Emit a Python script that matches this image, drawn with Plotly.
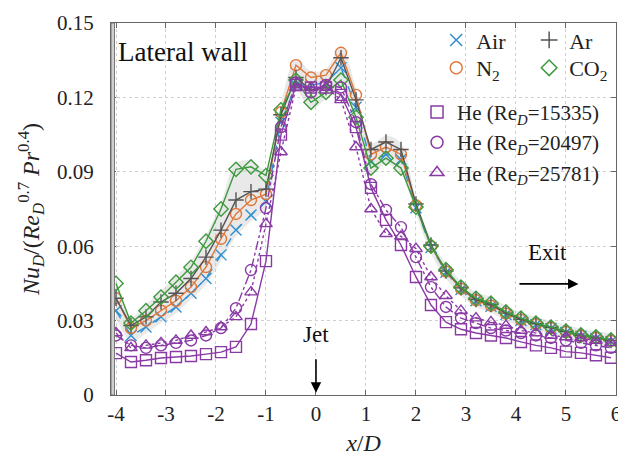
import plotly.graph_objects as go
import numpy as np

x_d = [-4.0, -3.7, -3.4, -3.1, -2.8, -2.5, -2.2, -1.9, -1.6, -1.3, -1.0, -0.7, -0.4, -0.1, 0.2, 0.5, 0.8,
       1.1, 1.4, 1.7, 2.0, 2.3, 2.6, 2.9, 3.2, 3.5, 3.8, 4.1, 4.4, 4.7, 5.0, 5.3, 5.6, 5.9]

air = [0.034, 0.024, 0.0274, 0.0315, 0.0355, 0.041, 0.047, 0.0565, 0.0665, 0.0726, 0.078, 0.110, 0.125, 0.125,
       0.126, 0.132, 0.116, 0.094, 0.097, 0.095, 0.0755, 0.0595, 0.0495, 0.0425, 0.038, 0.0358, 0.0325, 0.030,
       0.0283, 0.0268, 0.0252, 0.0237, 0.0228, 0.0216]
n2 = [0.039, 0.027, 0.030, 0.034, 0.038, 0.0435, 0.0516, 0.063, 0.073, 0.0786, 0.081, 0.114, 0.133, 0.128,
      0.129, 0.138, 0.121, 0.097, 0.100, 0.097, 0.0765, 0.060, 0.0498, 0.0428, 0.0382, 0.036, 0.0328, 0.0303,
      0.0285, 0.027, 0.0254, 0.0238, 0.023, 0.0218]
ar = [0.039, 0.028, 0.0315, 0.0375, 0.041, 0.047, 0.0556, 0.0665, 0.0786, 0.082, 0.083, 0.113, 0.128, 0.123,
      0.124, 0.136, 0.119, 0.099, 0.102, 0.099, 0.077, 0.0605, 0.050, 0.0432, 0.0385, 0.0365, 0.033, 0.0305,
      0.0287, 0.0272, 0.0256, 0.024, 0.0232, 0.022]
co2 = [0.045, 0.029, 0.034, 0.0395, 0.0455, 0.0515, 0.062, 0.075, 0.091, 0.092, 0.0885, 0.115, 0.127, 0.118,
       0.122, 0.127, 0.112, 0.0915, 0.0955, 0.0915, 0.0758, 0.060, 0.0505, 0.0435, 0.039, 0.037, 0.0335, 0.031,
       0.029, 0.0274, 0.0258, 0.0242, 0.0234, 0.0222]
he_15335 = [0.0169, 0.0133, 0.014, 0.0149, 0.0153, 0.0157, 0.0165, 0.0173, 0.0194, 0.0286, 0.054, 0.105, 0.125,
            0.124, 0.124, 0.121, 0.108, 0.0835, 0.0706, 0.0605, 0.0476, 0.0363, 0.0294, 0.0265, 0.025, 0.024,
            0.023, 0.0214, 0.020, 0.019, 0.0175, 0.017, 0.016, 0.015]
he_20497 = [0.024, 0.020, 0.019, 0.020, 0.021, 0.022, 0.024, 0.027, 0.035, 0.0504, 0.0754, 0.108, 0.126, 0.122,
            0.125, 0.124, 0.110, 0.085, 0.0746, 0.0677, 0.0556, 0.0435, 0.0355, 0.031, 0.029, 0.027, 0.026,
            0.025, 0.024, 0.023, 0.022, 0.021, 0.020, 0.019]
he_25781 = [0.025, 0.019, 0.020, 0.021, 0.022, 0.024, 0.0254, 0.0274, 0.0315, 0.0415, 0.069, 0.098, 0.124, 0.124,
            0.124, 0.119, 0.100, 0.075, 0.065, 0.064, 0.059, 0.0476, 0.040, 0.034, 0.031, 0.0295, 0.028, 0.026,
            0.025, 0.024, 0.0234, 0.023, 0.022, 0.021]

x_ticks = [-4, -3, -2, -1, 0, 1, 2, 3, 4, 5, 6]
y_ticks = [0, 0.03, 0.06, 0.09, 0.12, 0.15]
y_tick_text = ["0", "0.03", "0.06", "0.09", "0.12", "0.15"]

FONT = "Liberation Serif"
C_AIR, C_N2, C_AR, C_CO2, C_HE = "#2f8fd0", "#e0773a", "#555555", "#3c9a3c", "#8a3aa5"

fig = go.Figure()

# uncertainty envelope of the four non-He gases (light grey)
gas = np.array([air, n2, ar, co2])
hi = gas.max(axis=0) + 0.0025
lo = gas.min(axis=0) - 0.0025
fig.add_trace(go.Scatter(x=x_d, y=list(hi), mode="lines", line=dict(width=0, shape="spline"),
                         showlegend=False, hoverinfo="skip"))
fig.add_trace(go.Scatter(x=x_d, y=list(lo), mode="lines", line=dict(width=0, shape="spline"),
                         fill="tonexty", fillcolor="rgba(200,200,200,0.4)", showlegend=False, hoverinfo="skip"))

series = [
    ("Air", air, C_AIR, "x-thin-open", "dash", "legend"),
    ("N<sub>2</sub>", n2, C_N2, "circle-open", "solid", "legend2"),
    ("Ar", ar, C_AR, "cross-thin-open", "solid", "legend3"),
    ("CO<sub>2</sub>", co2, C_CO2, "diamond-open", "solid", "legend4"),
    ("He (Re<sub><i>D</i></sub>=15335)", he_15335, C_HE, "square-open", "solid", "legend5"),
    ("He (Re<sub><i>D</i></sub>=20497)", he_20497, C_HE, "circle-open", "dashdot", "legend5"),
    ("He (Re<sub><i>D</i></sub>=25781)", he_25781, C_HE, "triangle-up-open", "dot", "legend5"),
]
for name, ys, col, sym, dash, leg in series:
    fig.add_trace(go.Scatter(x=x_d, y=ys, mode="lines+markers", name=name, showlegend=False,
                             line=dict(color=col, width=1.4, dash=dash),
                             marker=dict(symbol=sym, size=11, color=col, line=dict(color=col, width=1.4))))

# legend-only entries (markers only)
for name, ys, col, sym, dash, leg in series:
    fig.add_trace(go.Scatter(x=[None], y=[None], mode="markers", name=name, legend=leg,
                             marker=dict(symbol=sym, size=12, color=col, line=dict(color=col, width=1.5))))

leg_font = dict(family=FONT, size=22, color="#222")
common_leg = dict(xanchor="left", yanchor="middle", bgcolor="rgba(0,0,0,0)", font=leg_font, itemwidth=30)
fig.update_layout(
    legend=dict(x=0.644, y=0.954, **common_leg),
    legend2=dict(x=0.644, y=0.879, **common_leg),
    legend3=dict(x=0.828, y=0.954, **common_leg),
    legend4=dict(x=0.828, y=0.879, **common_leg),
    legend5=dict(x=0.606, y=0.815, xanchor="left", yanchor="top", bgcolor="rgba(0,0,0,0)",
                 font=dict(family=FONT, size=21, color="#222"), itemwidth=30, tracegroupgap=0),
)

# lateral wall
fig.add_shape(type="rect", x0=-4.1, x1=-4.03, y0=0, y1=0.15, xref="x", yref="y",
              fillcolor="#cfcfcf", line=dict(color="#777", width=1), layer="above")

fig.add_annotation(x=-4.0, y=0.1385, text="Lateral wall", showarrow=False, xanchor="left",
                   font=dict(family=FONT, size=27, color="#111"))
fig.add_annotation(x=0, y=0.0242, text="Jet", showarrow=False, font=dict(family=FONT, size=23, color="#111"))
fig.add_annotation(x=0, y=0.0009, ax=0, ay=0.0150, xref="x", yref="y", axref="x", ayref="y", text="",
                   showarrow=True, arrowhead=2, arrowsize=1.3, arrowwidth=1.6, arrowcolor="#000")
fig.add_annotation(x=4.64, y=0.0573, text="Exit", showarrow=False, font=dict(family=FONT, size=23, color="#111"))
fig.add_annotation(x=5.25, y=0.0448, ax=4.04, ay=0.0448, xref="x", yref="y", axref="x", ayref="y", text="",
                   showarrow=True, arrowhead=2, arrowsize=1.3, arrowwidth=1.6, arrowcolor="#000")

axis_common = dict(showline=True, linecolor="#666", linewidth=1, mirror="ticks", ticks="inside", ticklen=5,
                   tickcolor="#666", showgrid=True, gridcolor="#cfcfcf", griddash="dot", gridwidth=1,
                   zeroline=False, automargin=False, tickfont=dict(family=FONT, size=21, color="#222"))
fig.update_xaxes(range=[-4.1, 6.001], tickvals=x_ticks, ticktext=[str(t) for t in x_ticks], **axis_common,
                 title=dict(text="<i>x</i>/<i>D</i>", font=dict(family=FONT, size=24, color="#222"), standoff=8))
fig.update_yaxes(range=[0, 0.15], tickvals=y_ticks, ticktext=y_tick_text, ticklabelstandoff=12, **axis_common,
                 title=dict(text="<i>Nu</i><sub><i>D</i></sub>/(<i>Re</i><sub><i>D</i></sub><sup>0.7</sup> <i>Pr</i><sup>0.4</sup>)",
                            font=dict(family=FONT, size=24, color="#222"), standoff=10))

# the page body adds an 8 px offset, so the figure is sized to the remaining viewport
fig.update_layout(width=618, height=458, margin=dict(l=103, r=10, t=15, b=71, autoexpand=False),
                  plot_bgcolor="white", paper_bgcolor="white", font=dict(family=FONT))

fig.write_html("out.html")
